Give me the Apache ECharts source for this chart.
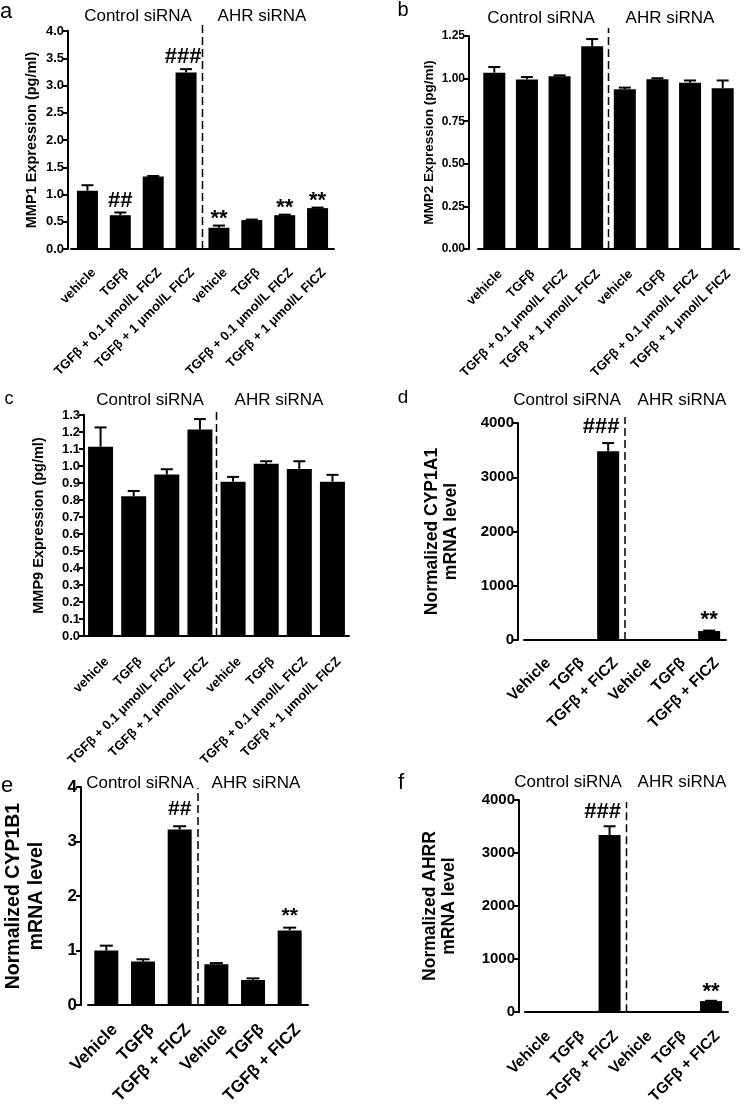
<!DOCTYPE html>
<html><head><meta charset="utf-8">
<script src="https://cdn.jsdelivr.net/npm/echarts@6/dist/echarts.min.js"></script>
<style>html,body{margin:0;padding:0;background:#fff}#c{width:748px;height:1107px}</style>
</head><body><div id="c"></div>
<script>
// ---------- DATA ----------
const catsMMP = ['vehicle', 'TGFβ', 'TGFβ + 0.1 μmol/L FICZ', 'TGFβ + 1 μmol/L FICZ',
                 'vehicle', 'TGFβ', 'TGFβ + 0.1 μmol/L FICZ', 'TGFβ + 1 μmol/L FICZ'];
const catsMRNA = ['Vehicle', 'TGFβ', 'TGFβ + FICZ', 'Vehicle', 'TGFβ', 'TGFβ + FICZ'];
const groupLabels = ['Control siRNA', 'AHR siRNA'];
const panelLetters = ['a', 'b', 'c', 'd', 'e', 'f'];
const yTitles = ['MMP1 Expression (pg/ml)', 'MMP2 Expression (pg/ml)', 'MMP9 Expression (pg/ml)',
                 'Normalized CYP1A1\nmRNA level', 'Normalized CYP1B1\nmRNA level', 'Normalized AHRR\nmRNA level'];

const mmp1    = [1.07, 0.62, 1.33, 3.24, 0.39, 0.53, 0.62, 0.75];
const mmp1Err = [0.10, 0.05, 0.01, 0.06, 0.04, 0.01, 0.01, 0.01];
const mmp1Sig = ['', '##', '', '###', '**', '', '**', '**'];

const mmp2    = [1.035, 0.995, 1.014, 1.19, 0.937, 0.996, 0.976, 0.944];
const mmp2Err = [0.033, 0.014, 0.005, 0.042, 0.010, 0.006, 0.013, 0.045];
const mmp2Sig = ['', '', '', '', '', '', '', ''];

const mmp9    = [1.113, 0.822, 0.950, 1.215, 0.908, 1.013, 0.983, 0.908];
const mmp9Err = [0.114, 0.031, 0.031, 0.061, 0.028, 0.015, 0.045, 0.040];
const mmp9Sig = ['', '', '', '', '', '', '', ''];

const cyp1a1    = [1, 6, 3480, 4, 2, 166];
const cyp1a1Err = [0, 0, 150, 0, 0, 8];
const cyp1a1Sig = ['', '', '###', '', '', '**'];

const cyp1b1    = [1.00, 0.80, 3.22, 0.75, 0.46, 1.37];
const cyp1b1Err = [0.09, 0.04, 0.06, 0.02, 0.03, 0.05];
const cyp1b1Sig = ['', '', '##', '', '', '**'];

const ahrr    = [1, 2, 3340, 3, 2, 208];
const ahrrErr = [0, 0, 165, 0, 0, 6];
const ahrrSig = ['', '', '###', '', '', '**'];

const yMax      = [4, 1.25, 1.3, 4000, 4, 4000];
const yInterval = [0.5, 0.25, 0.1, 1000, 1, 1000];
const yDecimals = [1, 2, 1, 0, 0, 0];
const dividerAfter = [3, 3, 3, 2, 2, 2];

// ---------- LAYOUT / STYLE ----------
const FONT = '"Liberation Sans", Arial, Helvetica, sans-serif';
const panels = [
  {cats: catsMMP, vals: mmp1, errs: mmp1Err, sig: mmp1Sig,
   grid: {left: 71, top: 31, width: 263, height: 218}, yOff: 3, nameGap: 28, nameSize: 14.5, nameLH: 16,
   tickSize: 13, xSize: 13, xMargin: 28, xPad: 9, barW: 21, capW: 12, divExt: 6, sigGap: 4.5, sigSize: 22, hashDx: -3,
   letterPos: [6, 12], letterSize: 22, grp: [[138, 16], [262, 16]]},
  {cats: catsMMP, vals: mmp2, errs: mmp2Err, sig: mmp2Sig,
   grid: {left: 478, top: 36, width: 261, height: 213}, yOff: 9, nameGap: 27, nameSize: 13.5, nameLH: 16,
   tickSize: 12, xSize: 13, xMargin: 29, xPad: 8.5, barW: 22, capW: 12, divExt: 8, sigGap: 4.5, sigSize: 22, hashDx: 0,
   letterPos: [403, 10], letterSize: 20, grp: [[541, 18], [670, 18]]},
  {cats: catsMMP, vals: mmp9, errs: mmp9Err, sig: mmp9Sig,
   grid: {left: 84, top: 415, width: 265, height: 221}, yOff: 0, nameGap: 37, nameSize: 14.5, nameLH: 16,
   tickSize: 13, xSize: 13, xMargin: 30, xPad: 9, barW: 25, capW: 12, divExt: 4, sigGap: 4.5, sigSize: 22, hashDx: 0,
   letterPos: [9, 399], letterSize: 18, grp: [[150, 400], [279, 400]]},
  {cats: catsMRNA, vals: cyp1a1, errs: cyp1a1Err, sig: cyp1a1Sig,
   grid: {left: 524, top: 423, width: 202, height: 217}, yOff: 6, nameGap: 57, nameSize: 17.5, nameLH: 19,
   tickSize: 15, xSize: 15.5, xMargin: 28, xPad: 10.5, barW: 22, capW: 12, divExt: 6, sigGap: 9, sigSize: 22, hashDx: -7,
   letterPos: [403, 398], letterSize: 19, grp: [[567, 400], [682, 400]]},
  {cats: catsMRNA, vals: cyp1b1, errs: cyp1b1Err, sig: cyp1b1Sig,
   grid: {left: 88, top: 787, width: 220, height: 226}, yOff: 7, nameGap: 33, nameSize: 19.5, nameLH: 23,
   tickSize: 17, xSize: 17, xMargin: 30.5, xPad: 12, barW: 24, capW: 13, divExt: -1, sigGap: 10, sigSize: 21, hashDx: 0,
   letterPos: [7, 786], letterSize: 22, grp: [[140, 783], [256, 783]]},
  {cats: catsMRNA, vals: ahrr, errs: ahrrErr, sig: ahrrSig,
   grid: {left: 525, top: 800, width: 203, height: 217}, yOff: 6, nameGap: 60, nameSize: 17.5, nameLH: 19,
   tickSize: 15, xSize: 15.5, xMargin: 28, xPad: 9, barW: 22, capW: 12, divExt: -2, sigGap: 7.5, sigSize: 22, hashDx: -7,
   letterPos: [401, 783], letterSize: 22, grp: [[568, 782], [682, 782]]}
];

const grids = [], xAxes = [], yAxes = [], series = [], graphics = [];

panels.forEach((p, k) => {
  grids.push(Object.assign({containLabel: false}, p.grid));
  xAxes.push({
    type: 'category', gridIndex: k, data: p.cats,
    axisLine: {lineStyle: {color: '#000', width: 2}},
    axisTick: {alignWithLabel: true, length: 6, lineStyle: {color: '#000', width: 2}},
    axisLabel: {rotate: 45, interval: 0, margin: p.xMargin, color: '#000', padding: [0, -p.xPad, 0, 0],
                fontFamily: FONT, fontWeight: 'bold', fontSize: p.xSize}
  });
  yAxes.push({
    type: 'value', gridIndex: k, min: 0, max: yMax[k], interval: yInterval[k], offset: p.yOff,
    name: yTitles[k], nameLocation: 'middle', nameRotate: 90, nameGap: p.nameGap,
    nameTextStyle: {color: '#000', fontFamily: FONT, fontWeight: 'bold', fontSize: p.nameSize, lineHeight: p.nameLH},
    splitLine: {show: false},
    axisLine: {show: true, lineStyle: {color: '#000', width: 2}},
    axisTick: {show: true, length: 5, lineStyle: {color: '#000', width: 2}},
    axisLabel: {color: '#000', fontFamily: FONT, fontWeight: 'bold', fontSize: p.tickSize, margin: 4,
                formatter: v => v.toFixed(yDecimals[k])}
  });
  series.push({
    type: 'bar', xAxisIndex: k, yAxisIndex: k, data: p.vals, barWidth: p.barW,
    itemStyle: {color: '#000'}, silent: true, animation: false
  });
  // error bars + significance marks
  series.push({
    type: 'custom', xAxisIndex: k, yAxisIndex: k, animation: false, silent: true, z: 5,
    data: p.vals.map((v, i) => [i, v, p.errs[i]]),
    renderItem: (params, api) => {
      const i = api.value(0), v = api.value(1), e = api.value(2);
      const b = api.coord([i, v]), t = api.coord([i, v + e]);
      const children = [];
      if (e > 0) {
        children.push({type: 'line', shape: {x1: b[0], y1: b[1], x2: t[0], y2: t[1]},
                       style: {stroke: '#000', lineWidth: 2}});
        children.push({type: 'line', shape: {x1: t[0] - p.capW / 2, y1: t[1], x2: t[0] + p.capW / 2, y2: t[1]},
                       style: {stroke: '#000', lineWidth: 2}});
      }
      const s = p.sig[params.dataIndex];
      if (s) {
        const star = s.indexOf('*') >= 0;
        const fs = p.sigSize;
        const y = star ? t[1] - p.sigGap - 0.08 * fs : t[1] - p.sigGap - 0.33 * fs;
        const dx = (s === '###') ? p.hashDx : 0;
        children.push({type: 'text', style: {
          text: s, x: t[0] + dx, y: y,
          font: 'bold ' + fs + 'px ' + FONT, fill: '#000', align: 'center', verticalAlign: 'middle'}});
      }
      return {type: 'group', children};
    }
  });
  // dashed divider between siRNA groups
  series.push({
    type: 'custom', xAxisIndex: k, yAxisIndex: k, animation: false, silent: true, z: 4,
    data: [[dividerAfter[k], 0]],
    renderItem: (params, api) => {
      const idx = api.value(0);
      const b = api.coord([idx, 0]);
      const w = api.size([1, 0])[0];
      const top = api.coord([idx, yMax[k]])[1] - p.divExt;
      const x = b[0] + w / 2;
      return {type: 'line', shape: {x1: x, y1: b[1], x2: x, y2: top},
              style: {stroke: '#000', lineWidth: 1.5, lineDash: [8, 4]}};
    }
  });
  graphics.push({type: 'text', x: p.letterPos[0], y: p.letterPos[1],
    style: {text: panelLetters[k], font: p.letterSize + 'px ' + FONT, fill: '#000', align: 'center', verticalAlign: 'middle'}});
  groupLabels.forEach((g, j) => {
    graphics.push({type: 'text', x: p.grp[j][0], y: p.grp[j][1],
      style: {text: g, font: '17px ' + FONT, fill: '#000', align: 'center', verticalAlign: 'middle'}});
  });
});

const chart = echarts.init(document.getElementById('c'), null, {renderer: 'canvas'});
chart.setOption({
  animation: false, backgroundColor: '#fff',
  grid: grids, xAxis: xAxes, yAxis: yAxes, series: series, graphic: graphics
});
</script></body></html>
